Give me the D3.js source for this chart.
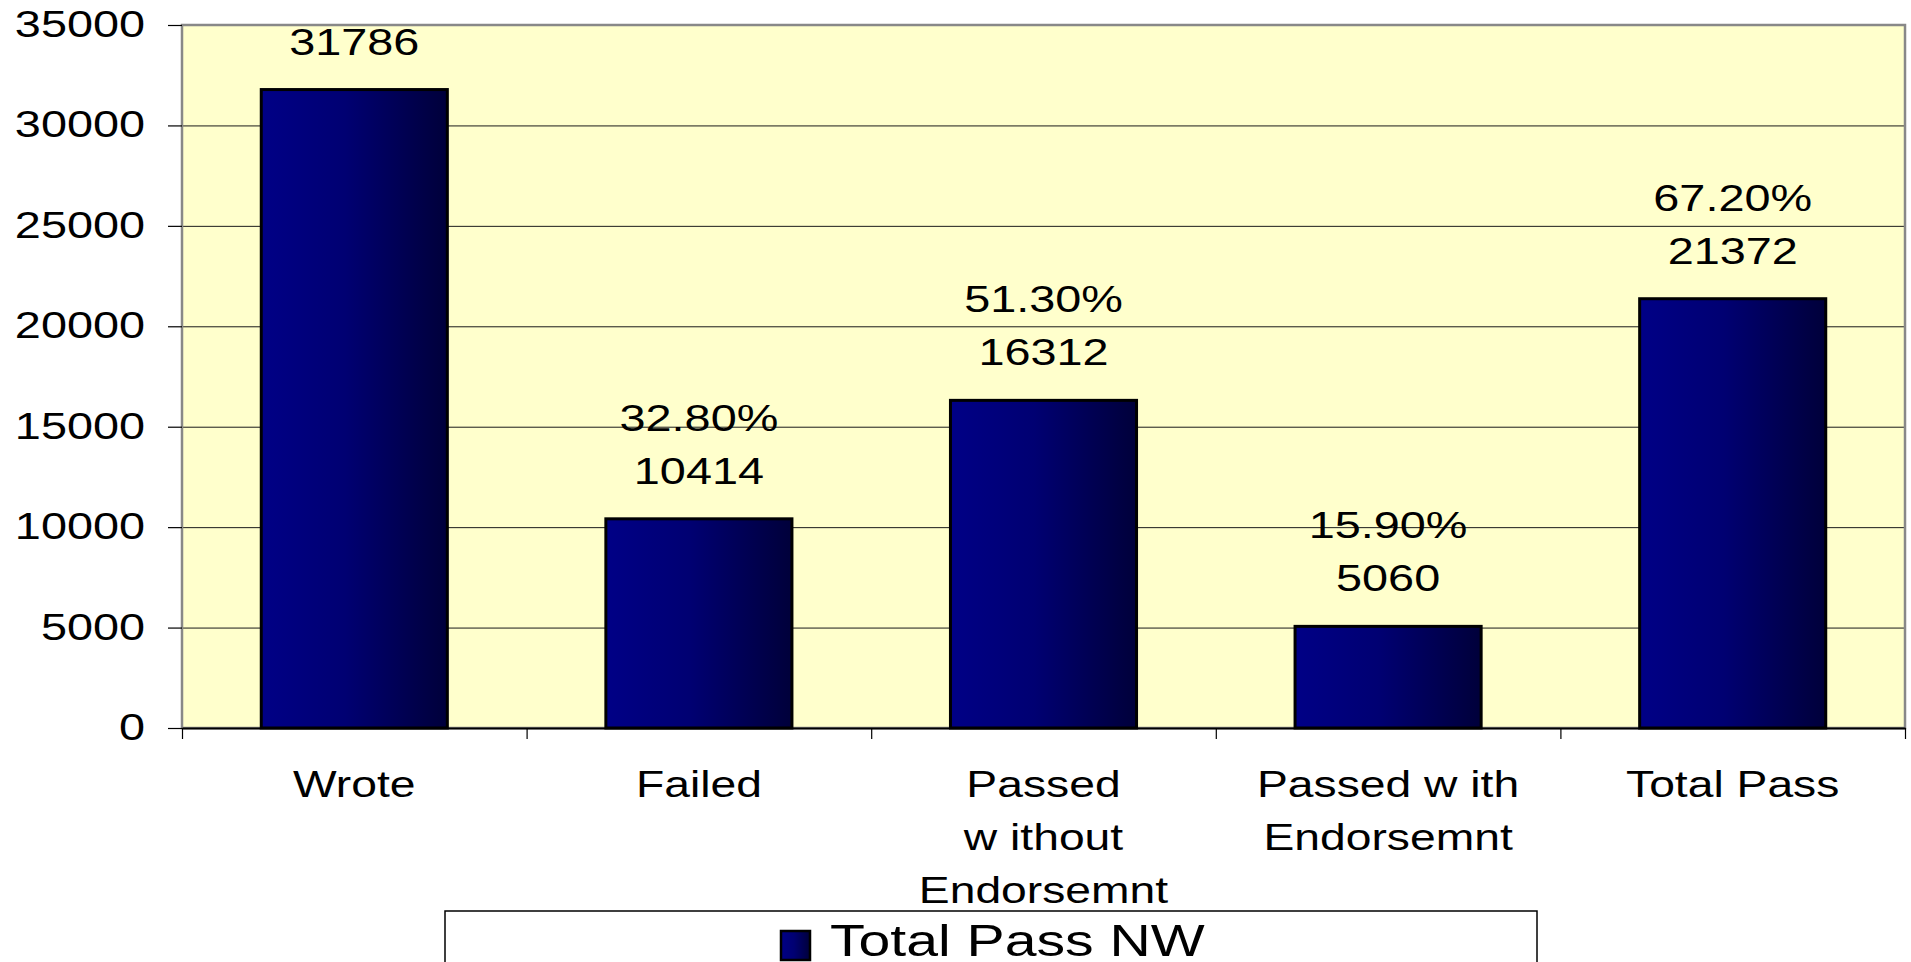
<html>
<head>
<meta charset="utf-8">
<title>Total Pass NW</title>
<script src="https://cdn.jsdelivr.net/npm/d3@7"></script>
<style>
body { margin:0; background:#fff; }
text { font-family: Arial, "Liberation Sans", sans-serif; fill:#000; }
</style>
<script>
// chart data
var categories = ["Wrote", "Failed", "Passed\nw ithout\nEndorsemnt", "Passed w ith\nEndorsemnt", "Total Pass"];
var values = [31786, 10414, 16312, 5060, 21372];
var percents = [null, "32.80%", "51.30%", "15.90%", "67.20%"];
var yTicks = [0, 5000, 10000, 15000, 20000, 25000, 30000, 35000];
var seriesName = "Total Pass NW";

window.onload = function(){
var W = 1911, H = 962;
var left = 182, right = 1905, top = 25, bottom = 728;

var svg = d3.select("#chart").append("svg")
    .attr("width", W)
    .attr("height", H);

var defs = svg.append("defs");
var grad = defs.append("linearGradient").attr("id", "barGrad")
    .attr("x1", "0%").attr("x2", "100%").attr("y1", "0%").attr("y2", "0%");
grad.append("stop").attr("offset", "0%").attr("stop-color", "#000086");
grad.append("stop").attr("offset", "45%").attr("stop-color", "#000072");
grad.append("stop").attr("offset", "100%").attr("stop-color", "#00003a");

var x = d3.scaleBand()
    .domain(categories)
    .range([left, right])
    .paddingInner(0.46)
    .paddingOuter(0.23);

var y = d3.scaleLinear()
    .domain([0, 35000])
    .range([bottom, top]);

// text that is stretched sideways like the original picture
function stretched(g, str, px, py, size, sx, anchor){
  return g.append("text")
    .attr("transform", "translate(" + px + "," + py + ") scale(" + sx + ",1)")
    .attr("text-anchor", anchor)
    .style("font-size", size + "px")
    .text(str);
}

// plot area
svg.append("rect")
    .attr("x", left).attr("y", top)
    .attr("width", right - left).attr("height", bottom - top)
    .attr("fill", "#ffffcc");

// gridlines
svg.append("g")
    .attr("transform", "translate(" + left + ",0)")
    .call(d3.axisLeft(y).tickValues(yTicks.slice(1, -1)).tickSize(-(right - left)).tickFormat(""))
    .call(function(g){ g.select(".domain").remove(); })
    .selectAll("line").attr("stroke", "#1a1a1a").attr("stroke-width", 1);

// border
svg.append("rect")
    .attr("x", left).attr("y", top)
    .attr("width", right - left).attr("height", bottom - top)
    .attr("fill", "none").attr("stroke", "#888").attr("stroke-width", 2.5);

// bars
svg.append("g").selectAll("rect")
  .data(values)
  .enter().append("rect")
    .attr("x", function(d, i){ return x(categories[i]); })
    .attr("y", function(d){ return y(d); })
    .attr("width", x.bandwidth())
    .attr("height", function(d){ return y(0) - y(d); })
    .attr("fill", "url(#barGrad)")
    .attr("stroke", "#000")
    .attr("stroke-width", 3);

// y axis ticks
svg.append("g")
    .attr("transform", "translate(" + left + ",0)")
    .call(d3.axisLeft(y).tickValues(yTicks).tickSize(14).tickFormat(""))
    .call(function(g){ g.select(".domain").remove(); })
    .selectAll("line").attr("stroke", "#000").attr("stroke-width", 1.2);

var yl = svg.append("g");
yTicks.forEach(function(t){
  stretched(yl, String(t), 145, y(t) + 12, 36, 1.3, "end");
});

// x axis with ticks on category boundaries
var xb = d3.scaleLinear().domain([0, categories.length]).range([left, right]);
svg.append("g")
    .attr("transform", "translate(0," + bottom + ")")
    .call(d3.axisBottom(xb).ticks(categories.length).tickSize(11).tickSizeOuter(0).tickFormat(""))
    .call(function(g){
      g.select(".domain").attr("stroke", "#000").attr("stroke-width", 2);
      g.selectAll("line").attr("stroke", "#000").attr("stroke-width", 1.2);
    });

var xl = svg.append("g");
categories.forEach(function(c){
  var cx = x(c) + x.bandwidth() / 2;
  c.split("\n").forEach(function(line, j){
    stretched(xl, line, cx, 797 + j * 53, 37, 1.25, "middle");
  });
});

// data labels
var dl = svg.append("g");
values.forEach(function(v, i){
  var cx = x(categories[i]) + x.bandwidth() / 2;
  stretched(dl, String(v), cx, y(v) - 35, 36, 1.3, "middle");
  if (percents[i]) stretched(dl, percents[i], cx, y(v) - 88, 36, 1.3, "middle");
});

// legend
var lg = svg.append("g");
lg.append("rect")
    .attr("x", 445).attr("y", 911)
    .attr("width", 1092).attr("height", 80)
    .attr("fill", "#fff").attr("stroke", "#000").attr("stroke-width", 1.5);
lg.append("rect")
    .attr("x", 781).attr("y", 931)
    .attr("width", 29).attr("height", 29)
    .attr("fill", "url(#barGrad)").attr("stroke", "#000").attr("stroke-width", 2.5);
stretched(lg, seriesName, 830, 956, 45, 1.27, "start");
};
</script>
</head>
<body>
<div id="chart"></div>
</body>
</html>
